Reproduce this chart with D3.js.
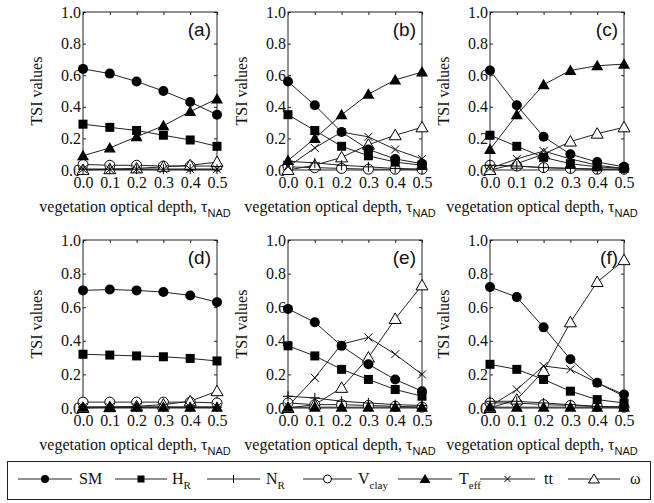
<!DOCTYPE html>
<html>
<head>
<meta charset="utf-8">
<script src="https://cdn.jsdelivr.net/npm/d3@7"></script>
<style>
  body { margin: 0; background: #fff; }
  svg text { font-family: "Liberation Serif", "Times New Roman", Times, "DejaVu Serif", serif; fill: #111; }
</style>
</head>
<body>
<svg id="chart" width="654" height="503"></svg>
<script>
// vegetation optical depth values (x axis)
var taus = [0.0, 0.1, 0.2, 0.3, 0.4, 0.5];
var xTicks = [0.0, 0.1, 0.2, 0.3, 0.4, 0.5];
var yTicks = [0.0, 0.2, 0.4, 0.6, 0.8, 1.0];
var seriesKeys = ["SM", "HR", "NR", "Vclay", "Teff", "tt", "omega"];
var panelLabels = ["(a)", "(b)", "(c)", "(d)", "(e)", "(f)"];

// each panel: rows in the order of seriesKeys
var panelA = [
  [0.64, 0.61, 0.56, 0.50, 0.43, 0.35],
  [0.29, 0.27, 0.25, 0.22, 0.19, 0.15],
  [0.005, 0.005, 0.005, 0.005, 0.005, 0.005],
  [0.035, 0.03, 0.03, 0.025, 0.025, 0.025],
  [0.09, 0.14, 0.21, 0.28, 0.37, 0.45],
  [0.005, 0.005, 0.005, 0.005, 0.005, 0.005],
  [0.0, 0.005, 0.01, 0.02, 0.03, 0.05]
];
var panelB = [
  [0.56, 0.41, 0.24, 0.13, 0.07, 0.04],
  [0.35, 0.25, 0.15, 0.09, 0.05, 0.03],
  [0.055, 0.045, 0.03, 0.02, 0.01, 0.005],
  [0.02, 0.015, 0.01, 0.005, 0.005, 0.005],
  [0.06, 0.20, 0.35, 0.48, 0.57, 0.62],
  [0.02, 0.14, 0.24, 0.21, 0.13, 0.07],
  [0.0, 0.03, 0.08, 0.16, 0.22, 0.27]
];
var panelC = [
  [0.63, 0.41, 0.21, 0.10, 0.05, 0.02],
  [0.22, 0.15, 0.08, 0.04, 0.02, 0.01],
  [0.03, 0.025, 0.015, 0.01, 0.005, 0.005],
  [0.03, 0.025, 0.015, 0.01, 0.005, 0.005],
  [0.13, 0.35, 0.54, 0.63, 0.66, 0.67],
  [0.01, 0.07, 0.12, 0.07, 0.03, 0.01],
  [0.0, 0.04, 0.10, 0.18, 0.23, 0.27]
];
var panelD = [
  [0.70, 0.705, 0.70, 0.69, 0.67, 0.63],
  [0.32, 0.315, 0.31, 0.305, 0.295, 0.28],
  [0.005, 0.005, 0.005, 0.005, 0.005, 0.005],
  [0.035, 0.035, 0.035, 0.035, 0.035, 0.03],
  [0.005, 0.005, 0.005, 0.005, 0.005, 0.005],
  [0.005, 0.005, 0.005, 0.005, 0.005, 0.005],
  [0.0, 0.005, 0.01, 0.02, 0.04, 0.10]
];
var panelE = [
  [0.59, 0.51, 0.37, 0.26, 0.17, 0.10],
  [0.37, 0.31, 0.23, 0.17, 0.11, 0.07],
  [0.07, 0.06, 0.04, 0.03, 0.02, 0.015],
  [0.03, 0.02, 0.02, 0.015, 0.01, 0.005],
  [0.005, 0.005, 0.005, 0.005, 0.005, 0.005],
  [0.01, 0.18, 0.38, 0.42, 0.32, 0.20],
  [0.0, 0.02, 0.12, 0.30, 0.53, 0.73]
];
var panelF = [
  [0.72, 0.66, 0.48, 0.29, 0.15, 0.08],
  [0.26, 0.23, 0.17, 0.10, 0.05, 0.03],
  [0.04, 0.04, 0.03, 0.02, 0.01, 0.005],
  [0.03, 0.03, 0.02, 0.015, 0.01, 0.005],
  [0.005, 0.005, 0.005, 0.005, 0.005, 0.005],
  [0.01, 0.11, 0.25, 0.23, 0.15, 0.07],
  [0.0, 0.05, 0.22, 0.51, 0.75, 0.88]
];
var panels = [panelA, panelB, panelC, panelD, panelE, panelF];

var svg = d3.select("#chart");
var serif = "'Liberation Serif', 'Times New Roman', Times, serif";
var colLeft = [83, 288, 490];
var plotW = 134;
var rows = [{top: 12, bottom: 170}, {top: 240, bottom: 408}];

// draw one marker at (0,0) into a group
function drawMarker(g, key) {
  if (key === "SM") {
    g.append("circle").attr("r", 5).attr("fill", "#000");
  } else if (key === "HR") {
    g.append("rect").attr("x", -4.5).attr("y", -4.5).attr("width", 9).attr("height", 9).attr("fill", "#000");
  } else if (key === "NR") {
    g.append("path").attr("d", "M-5,0H5M0,-5V5").attr("stroke", "#000").attr("stroke-width", 1);
  } else if (key === "Vclay") {
    g.append("circle").attr("r", 5).attr("fill", "#fff").attr("stroke", "#000").attr("stroke-width", 1);
  } else if (key === "Teff") {
    g.append("path").attr("d", "M0,-6L6,4.5L-6,4.5Z").attr("fill", "#000");
  } else if (key === "tt") {
    g.append("path").attr("d", "M-4,-4L4,4M-4,4L4,-4").attr("stroke", "#000").attr("stroke-width", 1);
  } else if (key === "omega") {
    g.append("path").attr("d", "M0,-6L6,4.5L-6,4.5Z").attr("fill", "#fff").attr("stroke", "#000").attr("stroke-width", 1);
  }
}

panels.forEach(function (data, i) {
  var row = rows[Math.floor(i / 3)];
  var left = colLeft[i % 3];
  var x = d3.scaleLinear().domain([0, 0.5]).range([left, left + plotW]);
  var y = d3.scaleLinear().domain([0, 1]).range([row.bottom, row.top]);
  var g = svg.append("g");

  g.append("rect")
    .attr("x", left).attr("y", row.top)
    .attr("width", plotW).attr("height", row.bottom - row.top)
    .attr("fill", "none").attr("stroke", "#222").attr("stroke-width", 1);

  var fmt = d3.format(".1f");
  g.append("g").attr("transform", "translate(0," + row.bottom + ")")
    .call(d3.axisBottom(x).tickValues(xTicks).tickFormat(fmt).tickSize(-3).tickPadding(7));
  g.append("g").attr("transform", "translate(" + left + ",0)")
    .call(d3.axisLeft(y).tickValues(yTicks).tickFormat(fmt).tickSize(-3).tickPadding(2));
  g.append("g").attr("transform", "translate(0," + row.top + ")")
    .call(d3.axisTop(x).tickValues(xTicks).tickFormat("").tickSize(-3));
  g.append("g").attr("transform", "translate(" + (left + plotW) + ",0)")
    .call(d3.axisRight(y).tickValues(yTicks).tickFormat("").tickSize(-3));
  g.selectAll(".domain").remove();
  g.selectAll("g.tick line").attr("stroke", "#222");
  g.selectAll("g").attr("font-family", null);
  g.selectAll("g.tick text").style("font-family", serif).style("font-size", "16px").attr("fill", "#111");

  // axis titles
  g.append("text")
    .attr("transform", "translate(" + (left - 41) + "," + ((row.top + row.bottom) / 2) + ") rotate(-90)")
    .attr("text-anchor", "middle").style("font-family", serif).style("font-size", "16px")
    .text("TSI values");
  var xl = g.append("text")
    .attr("x", left + 52).attr("y", row.bottom + 42)
    .attr("text-anchor", "middle").style("font-family", serif).style("font-size", "16px");
  xl.append("tspan").text("vegetation optical depth, \u03c4");
  xl.append("tspan").attr("dy", 5).style("font-size", "11px")
    .style("font-family", "'Liberation Sans', Arial, sans-serif").text("NAD");

  g.append("text")
    .attr("x", left + plotW - 6).attr("y", row.top + 24)
    .attr("text-anchor", "end")
    .style("font-family", "'Liberation Sans', Arial, sans-serif").style("font-size", "19px")
    .text(panelLabels[i]);

  var line = d3.line().x(function (d, j) { return x(taus[j]); }).y(function (d) { return y(d); });

  seriesKeys.forEach(function (key, k) {
    g.append("path").datum(data[k]).attr("d", line)
      .attr("fill", "none").attr("stroke", "#222").attr("stroke-width", 1);
  });
  // open markers first, filled ones on top
  var order = [3, 6, 2, 5, 1, 4, 0];
  order.forEach(function (k) {
    var key = seriesKeys[k];
    data[k].forEach(function (v, j) {
      var mg = g.append("g").attr("transform", "translate(" + x(taus[j]) + "," + y(v) + ")");
      drawMarker(mg, key);
    });
  });
});

// legend
var legendItems = [
  {key: "SM", main: "SM", sub: "", x0: 18, x1: 72, tx: 79},
  {key: "HR", main: "H", sub: "R", x0: 115, x1: 167, tx: 172},
  {key: "NR", main: "N", sub: "R", x0: 207, x1: 260, tx: 266},
  {key: "Vclay", main: "V", sub: "clay", x0: 303, x1: 352, tx: 358},
  {key: "Teff", main: "T", sub: "eff", x0: 398, x1: 452, tx: 459},
  {key: "tt", main: "tt", sub: "", x0: 480, x1: 535, tx: 544},
  {key: "omega", main: "\u03c9", sub: "", x0: 568, x1: 620, tx: 630}
];
var lg = svg.append("g");
lg.append("rect").attr("x", 7.5).attr("y", 461.5).attr("width", 643).attr("height", 38)
  .attr("fill", "#fff").attr("stroke", "#222").attr("stroke-width", 1);
var ly = 479;
legendItems.forEach(function (it) {
  lg.append("line").attr("x1", it.x0).attr("x2", it.x1).attr("y1", ly).attr("y2", ly)
    .attr("stroke", "#222").attr("stroke-width", 1);
  var mg = lg.append("g").attr("transform", "translate(" + ((it.x0 + it.x1) / 2) + "," + ly + ")");
  if (it.key === "NR") {
    mg.append("path").attr("d", "M0,-4V4").attr("stroke", "#000");
  } else if (it.key === "SM") {
    mg.append("circle").attr("r", 4).attr("fill", "#000");
  } else if (it.key === "HR") {
    mg.append("rect").attr("x", -3.5).attr("y", -3.5).attr("width", 7).attr("height", 7).attr("fill", "#000");
  } else if (it.key === "Vclay") {
    mg.append("circle").attr("r", 4).attr("fill", "#fff").attr("stroke", "#000");
  } else if (it.key === "Teff") {
    mg.append("path").attr("d", "M0,-5L5.5,4L-5.5,4Z").attr("fill", "#000");
  } else if (it.key === "tt") {
    mg.append("path").attr("d", "M-3,-3L3,3M-3,3L3,-3").attr("stroke", "#000");
  } else {
    mg.append("path").attr("d", "M0,-5L5.5,4L-5.5,4Z").attr("fill", "#fff").attr("stroke", "#000");
  }
  var t = lg.append("text").attr("x", it.tx).attr("y", ly + 5)
    .style("font-family", serif).style("font-size", "16px");
  t.append("tspan").text(it.main);
  if (it.sub) t.append("tspan").attr("dy", 5).style("font-size", "11px").text(it.sub);
});
</script>
</body>
</html>
